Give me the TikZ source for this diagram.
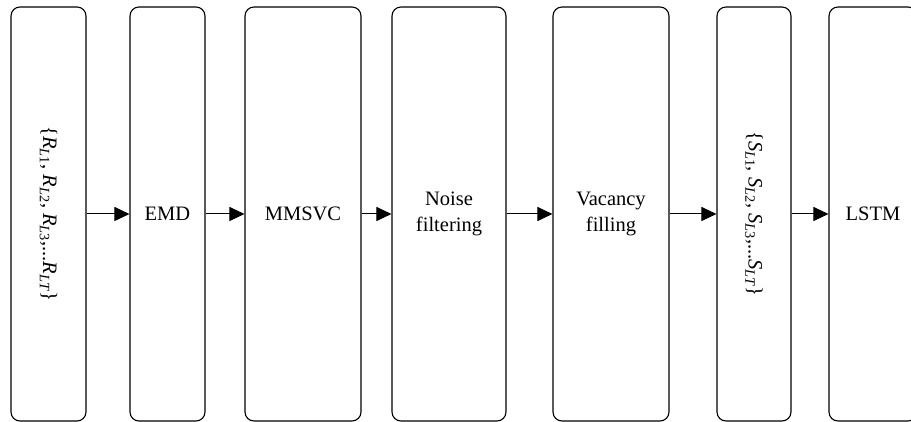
\documentclass[tikz,border=0pt]{standalone}
\usepackage{fontspec}
\setmainfont{Liberation Serif}
\usetikzlibrary{arrows.meta}

\tikzset{
  stage/.style={draw, line width=1.1pt, rounded corners=9pt, align=center, inner sep=0pt,
    font=\fontsize{20.5}{26}\selectfont},
  tall/.style={stage, minimum height=414pt, minimum width=#1},
  lying/.style={stage, rotate=-90, minimum width=414pt, minimum height=#1},
  flow/.style={line width=1pt, -{Triangle[length=15pt,width=14pt]}}
}
\newcommand{\seq}[1]{\textit{#1}}

\begin{document}
\begin{tikzpicture}[x=1pt,y=-1pt]
\useasboundingbox (0,0) rectangle (911,422);
\node[lying=75pt] (raw) at (48.5,214) {\{\seq{R}\textsubscript{\seq{L}1}, \seq{R}\textsubscript{\seq{L}2}, \seq{R}\textsubscript{\seq{L}3},...\seq{R}\textsubscript{\seq{LT}}\}};
\node[tall=75pt] (emd) at (167.5,214) {EMD};
\node[tall=116pt] (mmsvc) at (303,214) {MMSVC};
\node[tall=114pt] (noise) at (449,214) {Noise\\filtering};
\node[tall=116pt] (fill) at (611,214) {Vacancy\\filling};
\node[lying=74pt] (clean) at (754,214) {\{\seq{S}\textsubscript{\seq{L}1}, \seq{S}\textsubscript{\seq{L}2}, \seq{S}\textsubscript{\seq{L}3},...\seq{S}\textsubscript{\seq{LT}}\}};
\node[tall=88pt] (lstm) at (873,214) {LSTM};
% processing chain
\draw[flow] (raw) -- (emd);
\draw[flow] (emd) -- (mmsvc);
\draw[flow] (mmsvc) -- (noise);
\draw[flow] (noise) -- (fill);
\draw[flow] (fill) -- (clean);
\draw[flow] (clean) -- (lstm);
\end{tikzpicture}
\end{document}
